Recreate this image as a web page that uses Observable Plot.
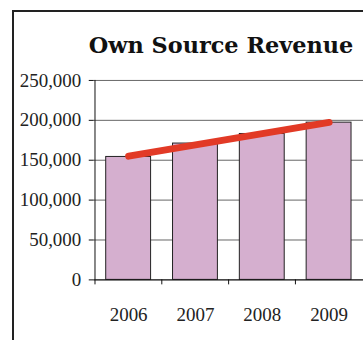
<!DOCTYPE html>
<html>
<head>
<meta charset="utf-8">
<script src="https://cdn.jsdelivr.net/npm/d3@7"></script>
<script src="https://cdn.jsdelivr.net/npm/@observablehq/plot@0.6"></script>
<style>
  html, body { margin: 0; padding: 0; background: #fff; overflow: hidden; }
  body { width: 363px; height: 340px; position: relative; }
  .frame {
    position: absolute; left: 12px; top: 10px; width: 400px; height: 400px;
    border-left: 2px solid #222; border-top: 2px solid #222;
  }
  .title {
    position: absolute; left: 79px; top: 31px; width: 284px; text-align: center;
    font-family: "DejaVu Serif", serif; font-weight: bold; font-size: 22.4px;
    color: #111; white-space: nowrap; line-height: 28px;
  }
  #chart { position: absolute; left: 0; top: 60px; }
</style>
</head>
<body>
<div class="frame"></div>
<div class="title">Own Source Revenue</div>
<div id="chart"></div>
<script>
// Annual own source revenue
const years = ["2006", "2007", "2008", "2009"];
const revenue = [154100, 170900, 182900, 197100];

// Linear trend, drawn between the first and last year
const trendYears = ["2006", "2009"];
const trendValues = [155100, 197400];

// Value axis ticks
const yTicks = [0, 50000, 100000, 150000, 200000, 250000];

const bars = years.map((year, i) => ({year, value: revenue[i]}));
const trend = trendYears.map((year, i) => ({year, value: trendValues[i]}));

const chart = Plot.plot({
  width: 364,
  height: 280,
  marginLeft: 94,
  marginRight: 0,
  marginTop: 20,
  marginBottom: 60,
  style: {fontFamily: "'Liberation Serif', serif", fontSize: "19px", color: "#222", background: "transparent"},
  x: {domain: years, paddingInner: 0.333, paddingOuter: 0.1667, axis: null},
  y: {domain: [0, 250000], axis: null},
  marks: [
    Plot.gridY(yTicks, {stroke: "#666", strokeOpacity: 1}),
    Plot.barY(bars, {x: "year", y: "value", fill: "#d5afcf", stroke: "#222", strokeWidth: 1}),
    Plot.ruleY([0], {stroke: "#111"}),
    Plot.ruleX([years[0]], {dx: -33.75, y1: 0, y2: 250000, stroke: "#111"}),
    Plot.axisY({ticks: yTicks, tickSize: 5, tickPadding: 8, tickFormat: d3.format(","), stroke: "#111", label: null}),
    Plot.axisX({tickSize: 5, tickFormat: () => "", dx: -33.75, stroke: "#111", label: null}),
    Plot.axisX({tickSize: 0, tickPadding: 28, label: null}),
    Plot.line(trend, {x: "year", y: "value", stroke: "#e23a26", strokeWidth: 7, strokeLinecap: "round"})
  ]
});
document.getElementById("chart").appendChild(chart);
</script>
</body>
</html>
